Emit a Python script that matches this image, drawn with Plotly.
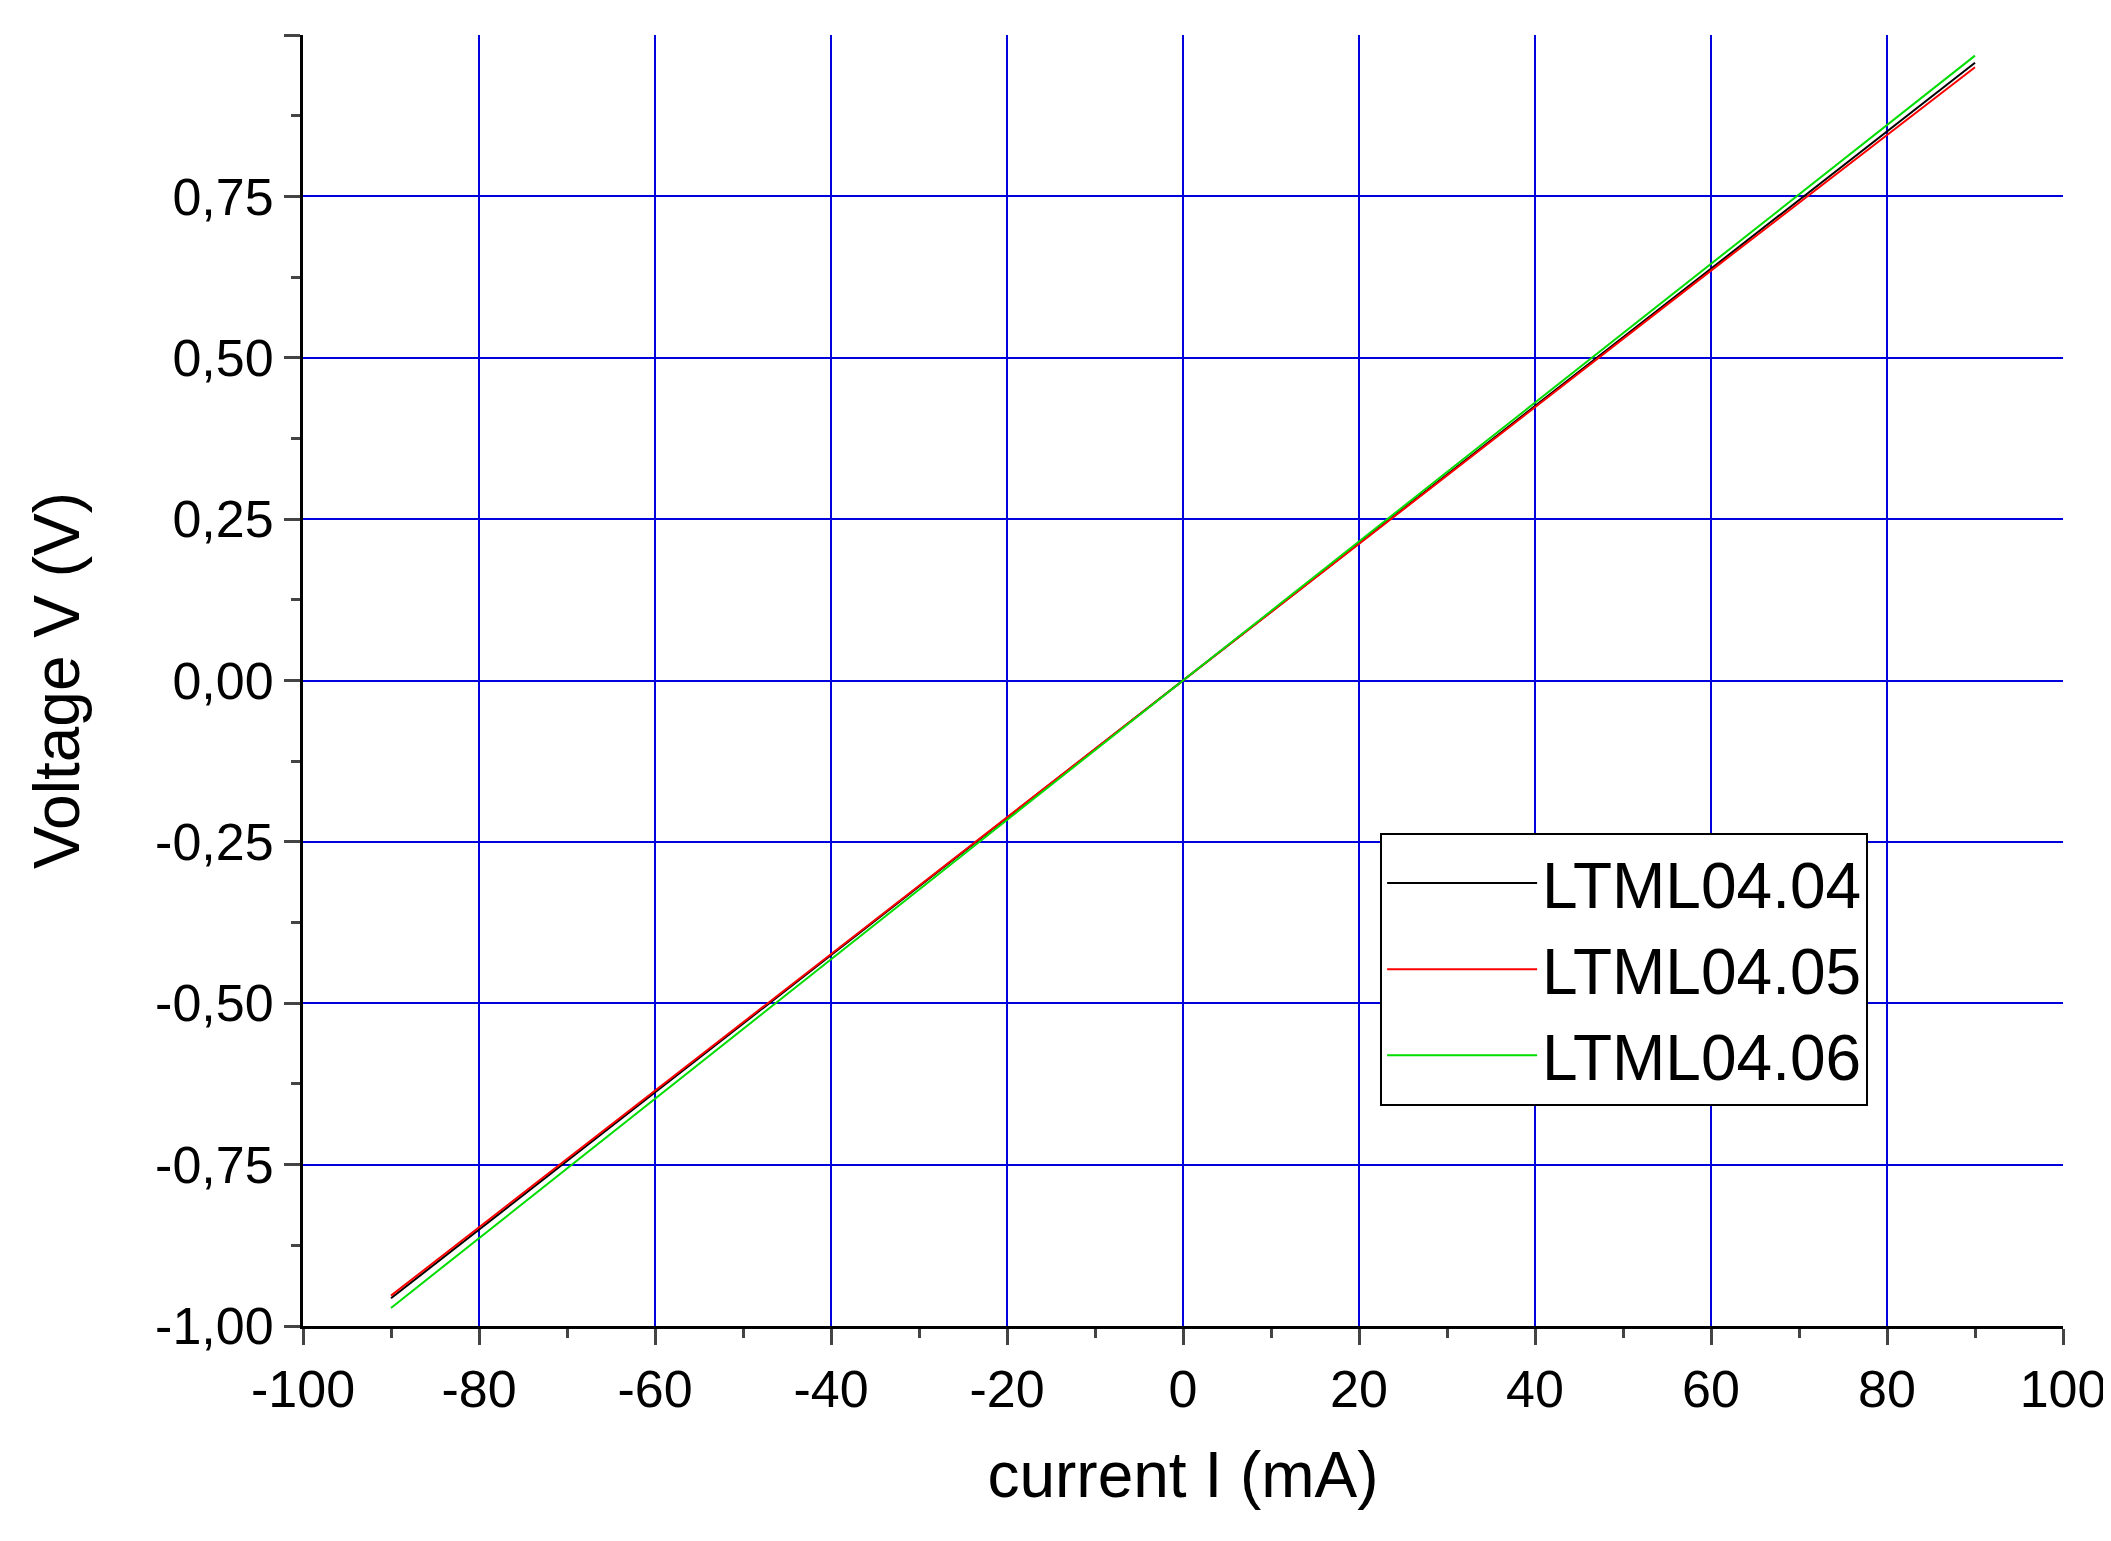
import plotly.graph_objects as go

current = [-90, -60, -30, 0, 30, 60, 90]
v_0404 = [-0.957, -0.638, -0.319, 0.0, 0.319, 0.638, 0.957]
v_0405 = [-0.953, -0.636, -0.318, 0.0, 0.318, 0.635, 0.950]
v_0406 = [-0.972, -0.648, -0.323, 0.0, 0.323, 0.646, 0.968]
names = ["LTML04.04", "LTML04.05", "LTML04.06"]
colors = ["#000000", "#ff0000", "#00dd00"]

x_ticks = [-100, -80, -60, -40, -20, 0, 20, 40, 60, 80, 100]
y_ticks = [-1.0, -0.75, -0.5, -0.25, 0.0, 0.25, 0.5, 0.75, 1.0]

fig = go.Figure()
for n, c, v in zip(names, colors, [v_0404, v_0405, v_0406]):
    fig.add_trace(go.Scatter(x=current, y=v, mode="lines", name=n,
                             line=dict(color=c, width=2)))

font = "Arial, Liberation Sans, sans-serif"
fig.update_layout(
    width=2111, height=1541, paper_bgcolor="white", plot_bgcolor="white",
    margin=dict(l=295, r=56, t=27, b=223),
    font=dict(family=font, color="black"),
    showlegend=True,
    legend=dict(x=0.612, y=0.382, xanchor="left", yanchor="top",
                bordercolor="black", borderwidth=2, bgcolor="white",
                font=dict(size=64), itemwidth=150, tracegroupgap=0),
)
fig.update_xaxes(range=[-100, 100], tickvals=x_ticks,
                 ticktext=[str(t) for t in x_ticks],
                 tickfont=dict(size=52), ticks="outside", ticklen=16, tickwidth=3,
                 showline=True, linecolor="black", linewidth=3,
                 showgrid=True, gridcolor="#0000dd", gridwidth=2, zeroline=False,
                 minor=dict(dtick=10, tick0=0, ticks="outside", ticklen=9, tickwidth=3, showgrid=False),
                 title=dict(text="current I (mA)", font=dict(size=64), standoff=35))
fig.update_yaxes(range=[-1, 1], tickvals=y_ticks,
                 ticktext=[f"{t:.2f}".replace(".", ",") for t in y_ticks],
                 tickfont=dict(size=52), ticks="outside", ticklen=16, tickwidth=3,
                 showline=True, linecolor="black", linewidth=3,
                 showgrid=True, gridcolor="#0000dd", gridwidth=2, zeroline=False,
                 minor=dict(dtick=0.125, tick0=0, ticks="outside", ticklen=9, tickwidth=3, showgrid=False),
                 title=dict(text="Voltage V (V)", font=dict(size=64), standoff=55))
fig.write_html("out.html")
